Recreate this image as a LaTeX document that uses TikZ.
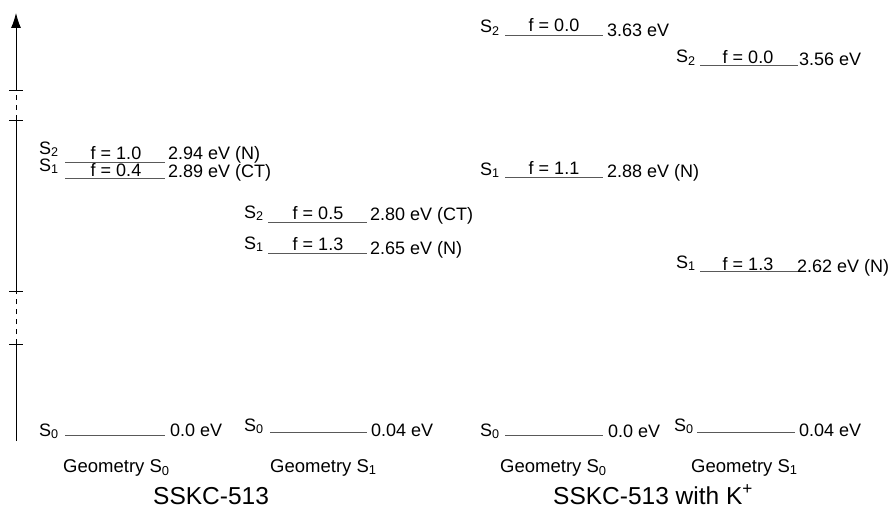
\documentclass[tikz,border=0pt]{standalone}
\usepackage{fontspec}
\setmainfont{Liberation Sans}
\usetikzlibrary{arrows.meta}
\tikzset{
  level/.style={draw=black!65, line width=0.9pt},
  axis/.style={draw=black, line width=0.9pt},
  tickmark/.style={draw=black, line width=0.9pt},
  txt/.style={font=\fontsize{18}{21}\selectfont, inner sep=0pt, text=black},
  captxt/.style={font=\fontsize{18.5}{21}\selectfont, inner sep=0pt, text=black},
  big/.style={font=\fontsize{24.5}{28}\selectfont, inner sep=0pt, text=black},
}
% one energy level: name, x-left, x-right, y of the line
\newcommand\elevel[4]{%
  \coordinate (#1-l) at (#2,#4);
  \coordinate (#1-r) at (#3,#4);
  \draw[level] (#1-l) -- (#1-r);
}
\begin{document}
\begin{tikzpicture}[x=1pt,y=-1pt]
\useasboundingbox (0,0) rectangle (891,508);

% energy axis with broken segments
\coordinate (ax0) at (16,441);
\coordinate (ax1) at (16,344);
\coordinate (ax2) at (16,291);
\coordinate (ax3) at (16,120);
\coordinate (ax4) at (16,90);
\coordinate (ax5) at (16,13);
\draw[axis] (ax0) -- (ax1);
\draw[axis, dashed, dash pattern=on 5pt off 5pt] (ax1) -- (ax2);
\draw[axis] (ax2) -- (ax3);
\draw[axis, dashed, dash pattern=on 5pt off 5pt] (ax3) -- (ax4);
\draw[axis, -{Latex[length=15pt,width=10pt]}] (ax4) -- (ax5);
\foreach \t in {1,2,3,4}{\draw[tickmark] ([xshift=-7pt]ax\t) -- ([xshift=7pt]ax\t);}

% ---------- SSKC-513, geometry S0 ----------
\elevel{aS2}{65}{165}{162}
\elevel{aS1}{65}{165}{178}
\elevel{aS0}{65}{165}{435}
\node[txt, anchor=base west] (aS2s) at (39,154) {S\textsubscript{2}};
\node[txt, anchor=base west] (aS1s) at (39,171) {S\textsubscript{1}};
\node[txt, anchor=base west] (aS0s) at (39,436) {S\textsubscript{0}};
\node[txt, anchor=base] (aS2f) at (116,159) {f = 1.0};
\node[txt, anchor=base] (aS1f) at (116,176.5) {f = 0.4};
\node[txt, anchor=base west] (aS2e) at (168,159) {2.94 eV (N)};
\node[txt, anchor=base west] (aS1e) at (168,177) {2.89 eV (CT)};
\node[txt, anchor=base west] (aS0e) at (170,436) {0.0 eV};

% ---------- SSKC-513, geometry S1 ----------
\elevel{bS2}{268}{367}{222}
\elevel{bS1}{268}{367}{253}
\elevel{bS0}{270}{367}{432}
\node[txt, anchor=base west] (bS2s) at (244,218) {S\textsubscript{2}};
\node[txt, anchor=base west] (bS1s) at (244,249) {S\textsubscript{1}};
\node[txt, anchor=base west] (bS0s) at (244,431) {S\textsubscript{0}};
\node[txt, anchor=base] (bS2f) at (318,219) {f = 0.5};
\node[txt, anchor=base] (bS1f) at (318,250) {f = 1.3};
\node[txt, anchor=base west] (bS2e) at (370,220) {2.80 eV (CT)};
\node[txt, anchor=base west] (bS1e) at (370,254) {2.65 eV (N)};
\node[txt, anchor=base west] (bS0e) at (371,436) {0.04 eV};

% ---------- SSKC-513 with K+, geometry S0 ----------
\elevel{cS2}{505}{603}{35}
\elevel{cS1}{505}{603}{177}
\elevel{cS0}{505}{603}{435}
\node[txt, anchor=base west] (cS2s) at (480,33) {S\textsubscript{2}};
\node[txt, anchor=base west] (cS1s) at (480,175) {S\textsubscript{1}};
\node[txt, anchor=base west] (cS0s) at (480,436) {S\textsubscript{0}};
\node[txt, anchor=base] (cS2f) at (554,32) {f = 0.0};
\node[txt, anchor=base] (cS1f) at (554,174) {f = 1.1};
\node[txt, anchor=base west] (cS2e) at (607,37) {3.63 eV};
\node[txt, anchor=base west] (cS1e) at (607,177) {2.88 eV (N)};
\node[txt, anchor=base west] (cS0e) at (608,437) {0.0 eV};

% ---------- SSKC-513 with K+, geometry S1 ----------
\elevel{dS2}{700}{798}{65}
\elevel{dS1}{700}{798}{271}
\elevel{dS0}{697}{795}{432}
\node[txt, anchor=base west] (dS2s) at (676,63) {S\textsubscript{2}};
\node[txt, anchor=base west] (dS1s) at (676,268) {S\textsubscript{1}};
\node[txt, anchor=base west] (dS0s) at (674,431) {S\textsubscript{0}};
\node[txt, anchor=base] (dS2f) at (748,64) {f = 0.0};
\node[txt, anchor=base] (dS1f) at (748,270) {f = 1.3};
\node[txt, anchor=base west] (dS2e) at (799,66) {3.56 eV};
\node[txt, anchor=base west] (dS1e) at (797,272) {2.62 eV (N)};
\node[txt, anchor=base west] (dS0e) at (799,436) {0.04 eV};

% ---------- captions ----------
\node[captxt, anchor=base west] (g1) at (63,472) {Geometry S\textsubscript{0}};
\node[captxt, anchor=base west] (g2) at (270,472) {Geometry S\textsubscript{1}};
\node[captxt, anchor=base west] (g3) at (500,472) {Geometry S\textsubscript{0}};
\node[captxt, anchor=base west] (g4) at (691,472) {Geometry S\textsubscript{1}};
\node[big, anchor=base west] (t1) at (153,504) {SSKC-513};
\node[big, anchor=base west] (t2) at (553,504) {SSKC-513 with K\textsuperscript{+}};
\end{tikzpicture}
\end{document}
